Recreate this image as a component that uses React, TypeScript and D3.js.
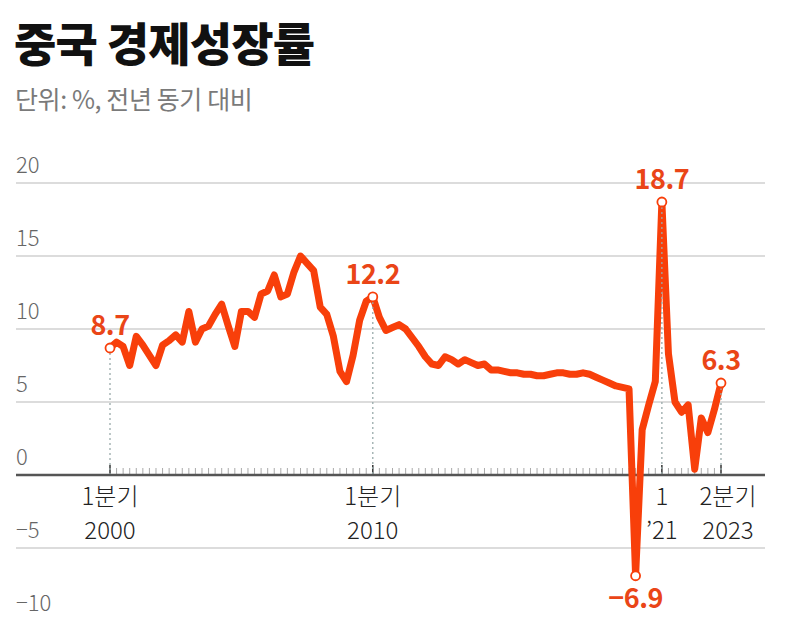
import * as d3 from "d3";

// 분기별 성장률 (%, 전년 동기 대비), 2000년 1분기 ~ 2023년 2분기
const growth: number[] = [
  // 2000
  8.7, 9.1, 8.8, 7.5,
  // 2001
  9.5, 8.9, 8.2, 7.5,
  // 2002
  8.9, 9.2, 9.6, 9.1,
  // 2003
  11.2, 9.1, 10.0, 10.2,
  // 2004
  11.0, 11.7, 10.2, 8.8,
  // 2005
  11.2, 11.2, 10.8, 12.4,
  // 2006
  12.6, 13.7, 12.2, 12.4,
  // 2007
  13.9, 15.0, 14.5, 14.0,
  // 2008
  11.5, 11.0, 9.5, 7.1,
  // 2009
  6.4, 8.2, 10.6, 11.9,
  // 2010
  12.2, 10.8, 9.9, 10.1,
  // 2011
  10.3, 10.0, 9.4, 8.8,
  // 2012
  8.1, 7.6, 7.5, 8.1,
  // 2013
  7.9, 7.6, 7.9, 7.7,
  // 2014
  7.5, 7.6, 7.2, 7.2,
  // 2015
  7.1, 7.0, 7.0, 6.9,
  // 2016
  6.9, 6.8, 6.8, 6.9,
  // 2017
  7.0, 7.0, 6.9, 6.9,
  // 2018
  7.0, 6.9, 6.7, 6.5,
  // 2019
  6.3, 6.1, 6.0, 5.9,
  // 2020
  -6.9, 3.1, 4.8, 6.4,
  // 2021
  18.7, 8.3, 5.0, 4.3,
  // 2022
  4.8, 0.4, 3.9, 2.9,
  // 2023
  4.5, 6.3,
];

const yTicks = [20, 15, 10, 5, 0, -5, -10];

// 눈금 라벨이 붙는 분기 (index into growth)
const xLabels = [
  { i: 0, top: "1분기", bottom: "2000" },
  { i: 40, top: "1분기", bottom: "2010" },
  { i: 84, top: "1", bottom: "’21" },
  { i: 93, top: "2분기", bottom: "2023" },
];

// 값이 표시되는 분기
const callouts = [0, 40, 80, 84, 93];
// 점선이 내려오는 분기
const guides = [0, 40, 84, 93];

const FONT = "'Noto Sans CJK KR', 'Noto Sans', sans-serif";
const RED = "#f83f0a";
const LABEL_RED = "#ea4517";

export default function App() {
  const width = 787;
  const height = 620;

  const x = d3.scaleLinear().domain([0, growth.length - 1]).range([110, 721]);
  const y = d3.scaleLinear().domain([-10, 20]).range([621, 183]);

  const line = d3
    .line<number>()
    .x((_, i) => x(i))
    .y((d) => y(d));

  const quarterIdx = d3.range(growth.length);
  const majorIdx = new Set(xLabels.map((l) => l.i));

  return (
    <svg
      width={width}
      height={height}
      style={{ position: "absolute", left: 0, top: 0, background: "#fff" }}
      fontFamily={FONT}
    >
      <text x={14} y={61} fontSize={46} fontWeight={900} fill="#111" letterSpacing={-0.8}>
        중국 경제성장률
      </text>
      <text x={15} y={109} fontSize={25} fill="#7a7a7a" letterSpacing={-0.4}>
        단위: %, 전년 동기 대비
      </text>

      {/* gridlines */}
      {yTicks
        .filter((t) => t !== 0)
        .map((t) => (
          <line key={t} x1={16} x2={765} y1={y(t)} y2={y(t)} stroke="#d0d0d0" strokeWidth={1.5} />
        ))}
      {yTicks.map((t) => (
        <text key={"l" + t} x={16} y={y(t) - 10} fontSize={22} fontWeight={300} fill="#666">
          {t < 0 ? `−${-t}` : t}
        </text>
      ))}

      {/* quarter ticks */}
      {quarterIdx.map((i) => (
        <line
          key={"t" + i}
          x1={x(i)}
          x2={x(i)}
          y1={y(0)}
          y2={y(0) - (majorIdx.has(i) ? 10 : 7)}
          stroke={majorIdx.has(i) ? "#333" : "#aaa"}
          strokeWidth={majorIdx.has(i) ? 1.5 : 1}
        />
      ))}
      <line x1={16} x2={765} y1={y(0)} y2={y(0)} stroke="#555" strokeWidth={2.5} />

      {/* x labels */}
      {xLabels.map((l) => {
        const cx = x(l.i) + (l.i === growth.length - 1 ? 7 : 0);
        return (
          <g key={"x" + l.i} fontSize={24} fontWeight={300} fill="#222" textAnchor="middle">
            <text x={cx} y={505}>{l.top}</text>
            <text x={cx} y={539}>{l.bottom}</text>
          </g>
        );
      })}

      <path
        d={line(growth) ?? ""}
        fill="none"
        stroke={RED}
        strokeWidth={7}
        strokeLinejoin="round"
        strokeLinecap="round"
      />

      {/* dotted guides */}
      {guides.map((i) => (
        <line
          key={"g" + i}
          x1={x(i)}
          x2={x(i)}
          y1={y(growth[i]) + 5}
          y2={y(0) - 1}
          stroke="#9aa"
          strokeWidth={1.3}
          strokeDasharray="2 3"
        />
      ))}

      {callouts.map((i) => {
        const v = growth[i];
        const below = v < 0;
        return (
          <g key={"c" + i}>
            <circle cx={x(i)} cy={y(v)} r={4.5} fill="#fff" stroke={RED} strokeWidth={1.8} />
            <text
              x={x(i)}
              y={below ? y(v) + 32 : y(v) - 13}
              fontSize={27}
              fontWeight={700}
              fill={LABEL_RED}
              textAnchor="middle"
              letterSpacing={-0.5}
            >
              {v < 0 ? `−${(-v).toFixed(1)}` : v.toFixed(1)}
            </text>
          </g>
        );
      })}
    </svg>
  );
}
